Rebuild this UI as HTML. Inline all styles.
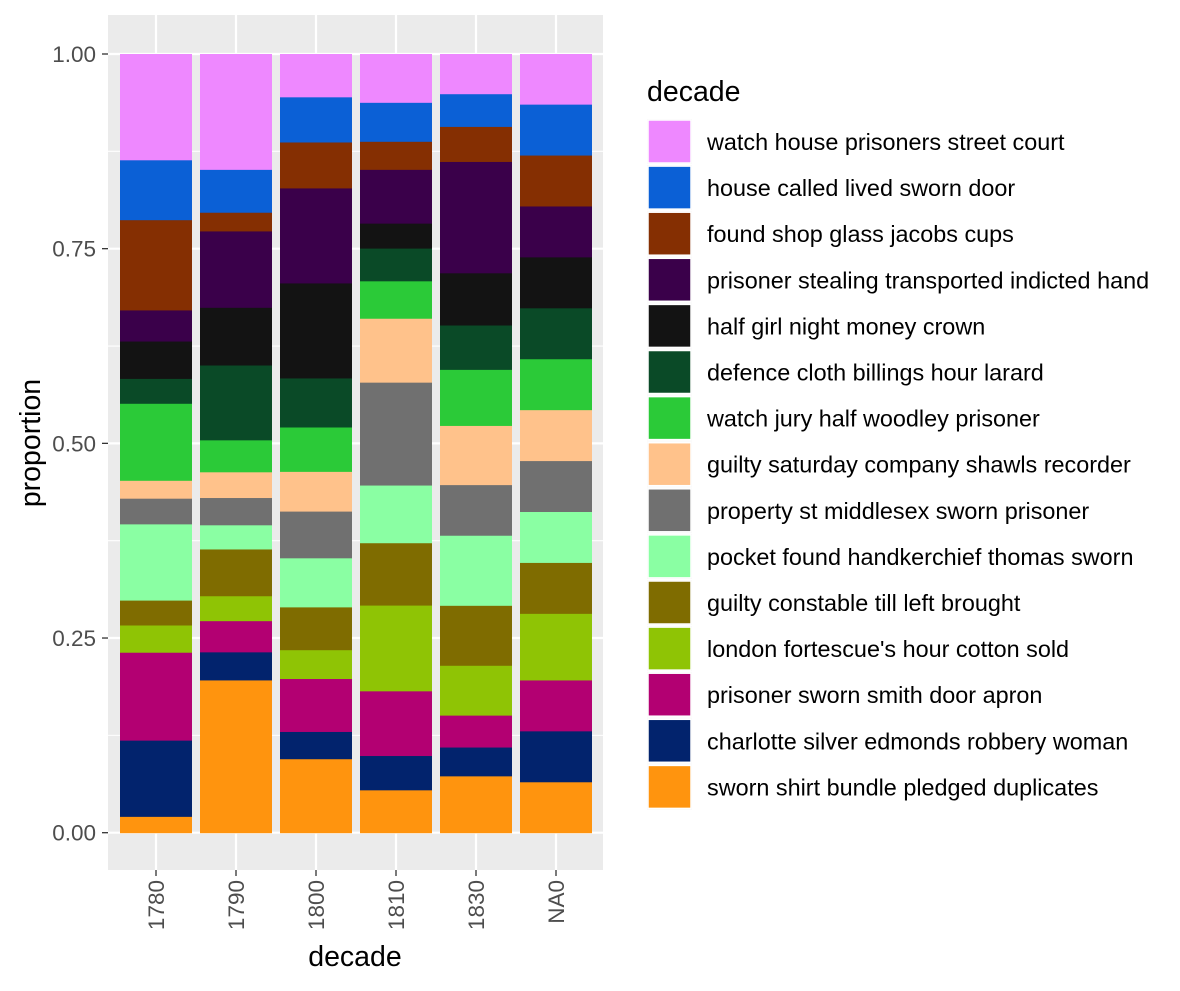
<!DOCTYPE html>
<html><head><meta charset="utf-8"><style>
body{margin:0;background:#fff;}
svg text{font-family:"Liberation Sans",Arial,sans-serif;}
</style></head><body>
<svg id="chart" width="1180" height="986" xmlns="http://www.w3.org/2000/svg">
<rect x="0" y="0" width="1180" height="986" fill="#fff"/>
<g id="panel"></g>
<g id="axes"></g>
<g id="legend"></g>
</svg>
<script>
const categories = ["1780","1790","1800","1810","1830","NA0"];
const topics = ["sworn shirt bundle pledged duplicates","charlotte silver edmonds robbery woman","prisoner sworn smith door apron","london fortescue's hour cotton sold","guilty constable till left brought","pocket found handkerchief thomas sworn","property st middlesex sworn prisoner","guilty saturday company shawls recorder","watch jury half woodley prisoner","defence cloth billings hour larard","half girl night money crown","prisoner stealing transported indicted hand","found shop glass jacobs cups","house called lived sworn door","watch house prisoners street court"];
const colors = ["#FF940E","#02236D","#B30072","#8FC405","#7F6C00","#8AFFA3","#707070","#FFC28B","#2BCA38","#0A4A27","#131313","#3A004A","#852F02","#0B60D6","#EE88FF"];
const v1780 = [.021,.098,.113,.035,.032,.098,.033,.023,.099,.032,.048,.040,.116,.077,.136];
const v1790 = [.196,.036,.040,.032,.060,.031,.035,.033,.041,.096,.074,.098,.024,.055,.148];
const v1800 = [.095,.035,.068,.037,.055,.063,.060,.051,.057,.063,.122,.122,.059,.058,.055];
const v1810 = [.055,.044,.083,.110,.080,.074,.132,.082,.048,.042,.032,.069,.036,.050,.062];
const v1830 = [.073,.037,.041,.064,.077,.090,.065,.076,.072,.057,.067,.143,.045,.042,.051];
const vNA0  = [.065,.065,.065,.085,.065,.065,.065,.065,.065,.065,.065,.065,.065,.065,.064];
const seriesByCat = [v1780,v1790,v1800,v1810,v1830,vNA0];
const yTicks = [0,0.25,0.5,0.75,1];
const yTickLabels = ["0.00","0.25","0.50","0.75","1.00"];

const NS="http://www.w3.org/2000/svg";
function mk(tag,attrs,parent){const e=document.createElementNS(NS,tag);for(const k in attrs)e.setAttribute(k,attrs[k]);parent.appendChild(e);return e;}
const P={x0:108,x1:603,y0:15,y1:870};
const yScale=v=>832.7-v*778.7;
const step=80, barW=72;
const xScale=i=>156+i*step;
const panel=document.getElementById('panel'), axes=document.getElementById('axes'), legend=document.getElementById('legend');

let bg=mk('rect',{x:P.x0,y:P.y0,width:P.x1-P.x0,height:P.y1-P.y0,fill:'#EBEBEB'},panel);


for(let i=0;i<yTicks.length-1;i++){
  const m=(yTicks[i]+yTicks[i+1])/2;
  let l=mk('line',{x1:P.x0,x2:P.x1,y1:yScale(m),y2:yScale(m),stroke:'#fff','stroke-width':1.1},panel);
  
  
}
yTicks.forEach((t,i)=>{
  let l=mk('line',{x1:P.x0,x2:P.x1,y1:yScale(t),y2:yScale(t),stroke:'#fff','stroke-width':2.2},panel);
  
  
  let tk=mk('line',{x1:P.x0-6,x2:P.x0,y1:yScale(t),y2:yScale(t),stroke:'#333','stroke-width':1.3},axes);
  
  
  let tx=mk('text',{x:P.x0-12,y:yScale(t)+8,'text-anchor':'end','font-size':22.5,fill:'#4D4D4D'},axes);
  tx.textContent=yTickLabels[i];
  
  
});
categories.forEach((c,i)=>{
  let l=mk('line',{x1:xScale(i),x2:xScale(i),y1:P.y0,y2:P.y1,stroke:'#fff','stroke-width':2.2},panel);
  
  
});
categories.forEach((c,i)=>{
  const vals=seriesByCat[i];
  const tot=vals.reduce((a,b)=>a+b,0);
  let cum=0;
  vals.forEach((v,j)=>{
    const p0=cum/tot, p1=(cum+v)/tot; cum+=v;
    let r=mk('rect',{x:xScale(i)-barW/2,y:yScale(p1),width:barW,height:yScale(p0)-yScale(p1)+0.5,fill:colors[j]},panel);
    
    
  });
  let tk=mk('line',{x1:xScale(i),x2:xScale(i),y1:P.y1,y2:P.y1+6,stroke:'#333','stroke-width':1.3},axes);
  
  
  let tx=mk('text',{x:0,y:0,'text-anchor':'end','font-size':22.5,fill:'#4D4D4D',transform:`translate(${xScale(i)+8},${P.y1+10}) rotate(-90)`},axes);
  tx.textContent=c;
  
  
});
let xt=mk('text',{x:355,y:966,'text-anchor':'middle','font-size':28.5,fill:'#000'},axes);
xt.textContent='decade';


let yt=mk('text',{x:0,y:0,'text-anchor':'middle','font-size':28.5,fill:'#000',transform:'translate(40,443) rotate(-90)'},axes);
yt.textContent='proportion';



let lt=mk('text',{x:647,y:101,'font-size':28.5,fill:'#000'},legend);
lt.textContent='decade';


for(let k=0;k<topics.length;k++){
  const j=topics.length-1-k;
  const cy=142+k*46.1;
  let g=mk('g',{},legend);
  
  
  mk('rect',{x:647,y:cy-23,width:45,height:45,fill:'#F2F2F2'},g);
  let sw=mk('rect',{x:648,y:cy-22,width:43,height:43,fill:colors[j],stroke:'#fff','stroke-width':1.5},g);
  
  
  let tx=mk('text',{x:707,y:cy+8,'font-size':23.4,fill:'#000'},g);
  tx.textContent=topics[j];
  
  
}
</script>
</body></html>
